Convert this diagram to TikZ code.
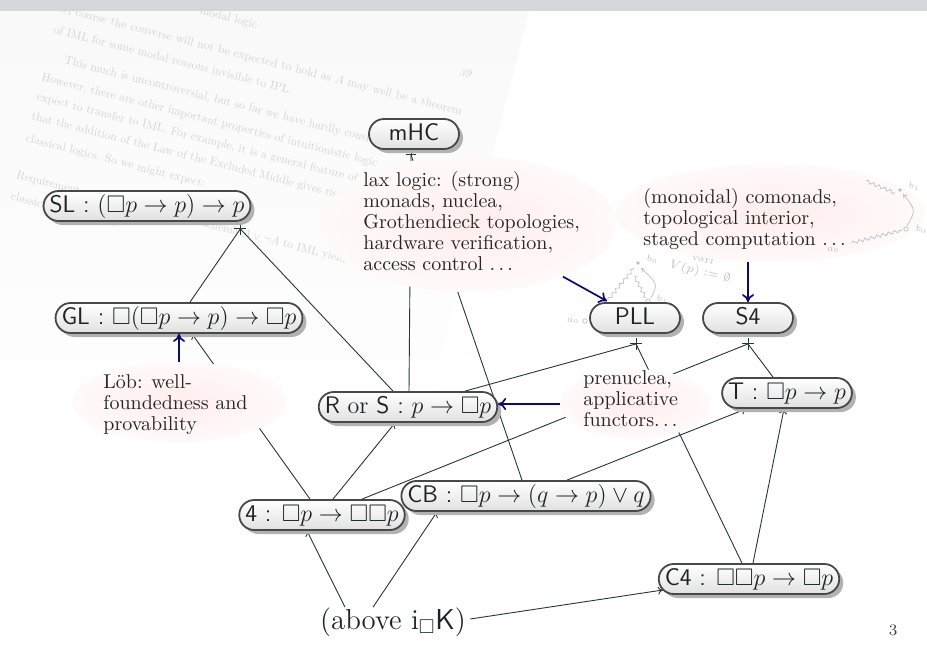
\RequirePackage{fix-cm}
\documentclass[tikz,border=0pt]{standalone}
\usepackage{amssymb}
\usetikzlibrary{shapes.geometric,shadows,calc,arrows.meta,decorations.pathmorphing,fadings}

\definecolor{barcol}{RGB}{212,216,219}
\definecolor{edgecol}{RGB}{38,55,55}
\definecolor{inkcol}{RGB}{28,36,36}
\definecolor{hintblue}{RGB}{10,10,112}
\definecolor{bordercol}{RGB}{72,72,72}

\pgfdeclarelayer{paper}
\pgfdeclarelayer{wires}
\pgfdeclarelayer{clouds}
\pgfsetlayers{paper,wires,clouds,main}

\tikzfading[name=pagefade, top color=transparent!0, bottom color=transparent!100]

\tikzset{
  logic/.style={rectangle, rounded corners=7.5pt, draw=bordercol, line width=0.9pt,
    top color=white, bottom color=black!12, text=inkcol,
    font=\fontsize{12}{14}\selectfont\sffamily,
    text height=9pt, text depth=3pt, inner xsep=3pt, inner ysep=1.5pt,
    minimum width=45pt,
    drop shadow={shadow xshift=2pt, shadow yshift=-2pt, fill=black!30, opacity=1}},
  bubble/.style={ellipse, inner sep=0pt, draw=none, inner color=red!7, outer color=red!2},
  note/.style={anchor=north west, inner sep=0pt, align=left, text=black!85,
    font=\fontsize{10}{10.5}\selectfont},
  wire/.style={draw=edgecol, line width=0.45pt},
  imp/.style={wire, -{To[length=2.5pt,width=4pt]}},
  hint/.style={draw=hintblue, line width=0.85pt, -{To[length=4pt,width=6pt]}},
  ghost/.style={text=black!17, font=\fontsize{10}{12}\selectfont, scale=0.585,
    anchor=base west, inner sep=0pt},
  faint/.style={text=black!25, font=\fontsize{4.5}{5}\selectfont, inner sep=0pt},
  pics/joint/.style={code={\draw[edgecol, line width=0.5pt] (-6,0) -- (6,0) (0,-6) -- (0,6);}},
  pics/tack/.style={code={\draw[edgecol, line width=0.5pt] (-5,0) -- (5,0) (0,0) -- (0,-5);}},
}

\begin{document}
\begin{tikzpicture}[x=0.5pt, y=-0.5pt]
\useasboundingbox (0,0) rectangle (927,648);

% ---------- faint scanned page in the background ----------
\begin{pgfonlayer}{paper}
\begin{scope}[shift={(53,33)}, rotate=-14.4, transform shape]
  \fill[black!3, path fading=pagefade] (-60,-140) rectangle (456,330);
  \node[ghost, anchor=base east] (g0) at (196,-55) {modal logic};
  \node[ghost] (g1) at (0,-22) {\makebox[355pt][s]{Of course the converse will not be expected to hold as $A$ may well be a theorem}};
  \node[ghost] (g2) at (0,0) {of IML for some modal reasons invisible to IPL.};
  \node[ghost] (g3) at (18,27) {This much is uncontroversial, but so far we have hardly considered};
  \node[ghost] (g4) at (0,49) {However, there are other important properties of intuitionistic logic};
  \node[ghost] (g5) at (0,69) {expect to transfer to IML. For example, it is a general feature of};
  \node[ghost] (g6) at (0,89) {that the addition of the Law of the Excluded Middle gives rise to};
  \node[ghost] (g7) at (0,112) {classical logics. So we might expect:};
  \node[ghost] (g8) at (0,150) {Requirement};
  \node[ghost] (g8b) at (172,150) {the schema $A\vee\neg A$ to IML yields};
  \node[ghost] (g9) at (0,172) {classical};
  \node[ghost] (g9b) at (82,172) {IML.};
  \node[ghost, anchor=base east] (g39) at (416,-60) {\textit{39}};
\end{scope}

% small faint Kripke sketch near PLL
\begin{scope}[black!25, line width=0.35pt]
  \fill (638,263) circle (0.9pt);
  \draw (648,301) circle (1.1pt);
  \draw (585,321) circle (1.1pt);
  \node[faint] (kb0) at (652,259) {$b_0$};
  \node[faint] (kb1) at (662,299) {$b_1$};
  \node[faint] (ka0) at (573,321) {$a_0$};
  \draw[decorate, decoration={snake, amplitude=0.8pt, segment length=3pt}] (608,300) -- (634,268);
  \draw[decorate, decoration={snake, amplitude=0.8pt, segment length=3pt}] (634,276) -- (646,298);
  \draw[-{To[length=2pt,width=2.5pt]}] (651,298) .. controls (658,284) .. (641,268);
  \node[faint, rotate=-14, font=\fontsize{6}{7}\selectfont] (kv) at (700,272) {$V(p) := \emptyset$};
  \node[faint, rotate=-14, font=\fontsize{5}{6}\selectfont] (kvar) at (703,259) {vari};
\end{scope}

% top bar
\fill[barcol] (0,0) rectangle (927,11);
\end{pgfonlayer}

% ---------- the logics ----------
\node[logic] (mHC) at (414,134) {mHC};
\node[logic] (SL)  at (147,206) {SL : $(\Box p\to p)\to p$};
\node[logic] (GL)  at (179,318) {GL : $\Box(\Box p\to p)\to\Box p$};
\node[logic] (RS)  at (408,407) {R \textrm{or} S : $p\to\Box p$};
\node[logic] (PLL) at (635,318) {PLL};
\node[logic] (S4)  at (748,318) {S4};
\node[logic] (T)   at (787,393) {T : $\Box p\to p$};
\node[logic] (K4)  at (322,515) {4 : $\Box p\to\Box\Box p$};
\node[logic] (CB)  at (526,496) {CB : $\Box p\to(q\to p)\vee q$};
\node[logic] (C4)  at (749,579) {C4 : $\Box\Box p\to\Box p$};
\node[text=inkcol, font=\fontsize{14.4}{17}\selectfont, inner sep=0pt] (base) at (393,622) {(above i$_\Box$\textsf{K})};
\node[font=\fontsize{8}{9}\selectfont, text=black!75, inner sep=0pt] (pg) at (893,630) {3};

% join points
\coordinate (SLj)  at ($(SL.south east)+(-11,7)$);
\coordinate (mHCj) at ($(mHC.south)+(-3,5)$);
\coordinate (PLLj) at ($(PLL.south)+(1,10)$);
\coordinate (S4j)  at ($(S4.south)+(0,10)$);

% ---------- connectors ----------
\begin{pgfonlayer}{wires}
  \pic at (SLj) {joint};
  \pic at (PLLj) {joint};
  \pic at (S4j) {joint};
  \pic at (mHCj) {tack};

  \draw[wire] (SLj) -- ($(GL.north)+(11,0)$);
  \draw[wire] (SLj) -- ($(RS.north)+(-15,0)$);
  \draw[wire] (mHCj) -- ($(RS.north)+(1,0)$);
  \draw[wire] (mHCj) -- ($(CB.north)+(-4,0)$);
  \draw[wire] (PLLj) -- ($(RS.north)+(57,0)$);
  \draw[wire] (PLLj) -- ($(C4.north)+(-7,0)$);
  \draw[wire] (S4j) -- ($(K4.north)+(40,0)$);
  \draw[wire] (S4j) -- ($(T.north)+(-14,0)$);

  \draw[imp] ($(K4.north)+(-12,0)$) -- ($(GL.south)+(13,0)$);
  \draw[imp] ($(K4.north)+(11,0)$) -- ($(RS.south)+(-13,0)$);
  \draw[imp] ($(base.north)+(-48,0)$) -- ($(K4.south)+(-15,0)$);
  \draw[imp] ($(base.north)+(-20,0)$) -- ($(CB.south)+(-89,0)$);
  \draw[imp] ($(base.east)+(4,-3)$) -- ($(C4.west)+(5,11)$);
  \draw[imp] ($(CB.north)+(41,0)$) -- ($(T.south)+(-41,0)$);
  \draw[imp] ($(C4.north)+(4,0)$) -- ($(T.south)+(-3,0)$);
\end{pgfonlayer}

% ---------- remarks ----------
\begin{pgfonlayer}{clouds}
  \node[bubble, minimum width=107pt, minimum height=40pt] (lob) at (179,402) {};
  \node[bubble, minimum width=148pt, minimum height=68pt] (lax) at (468,224) {};
  \node[bubble, minimum width=155pt, minimum height=49pt] (com) at (770,213) {};
  \node[bubble, minimum width=75pt,  minimum height=35pt] (pre) at (635,404) {};

  \node[note] (lobtxt) at (103,374) {Löb: well-\\foundedness and\\provability};
  \node[note] (laxtxt) at (363,171) {lax logic: (strong)\\monads, nuclea,\\Grothendieck topologies,\\hardware verification,\\access control $\ldots$};
  \node[note] (comtxt) at (643,188) {(monoidal) comonads,\\topological interior,\\staged computation $\ldots$};
  \node[note] (pretxt) at (583,370) {prenuclea,\\applicative\\functors$\ldots$};

  % faint sketch at the right edge
  \begin{scope}[black!25, line width=0.35pt]
    \fill (900,190) circle (0.9pt);
    \draw (906,229) circle (1.1pt);
    \node[faint] (rb1) at (914,186) {$b_1$};
    \node[faint] (rb0) at (921,229) {$b_0$};
    \node[faint] (ra0) at (833,250) {$a_0$};
    \draw[decorate, decoration={snake, amplitude=0.8pt, segment length=3pt}] (866,181) -- (895,193);
    \draw[decorate, decoration={snake, amplitude=0.8pt, segment length=3pt}] (852,243) -- (902,230);
    \draw[-{To[length=2pt,width=2.5pt]}] (907,226) .. controls (916,210) .. (903,194);
  \end{scope}
\end{pgfonlayer}

\draw[hint] (lob.north) -- (GL.south);
\draw[hint] (pre.west) -- (pre.west -| RS.east);
\draw[hint] (lax.-29) -- ($(PLL.north)+(-28,-1)$);
\draw[hint] (com.south -| S4.north) -- (S4.north);

\end{tikzpicture}
\end{document}
